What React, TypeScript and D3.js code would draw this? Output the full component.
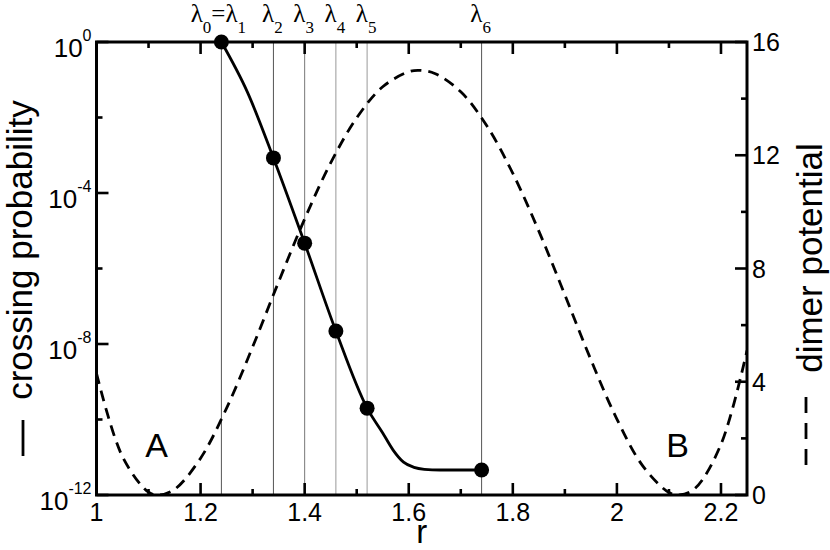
import React from 'react';
import * as d3 from 'd3';

// interface positions (lambda_i) and crossing probabilities at them
const lambdaR = [1.24, 1.34, 1.4, 1.46, 1.52, 1.74];
const lambdaNames = [['0', '1'], ['2'], ['3'], ['4'], ['5'], ['6']];
const crossingProb = [1, 8.5e-4, 4.7e-6, 2.2e-8, 2.0e-10, 4.6e-12];

// smooth crossing-probability curve
const curveR = [1.24, 1.29, 1.34, 1.4, 1.46, 1.52, 1.55, 1.57, 1.59, 1.61, 1.63, 1.66, 1.74];
const curveP = [1, 4.7e-2, 8.5e-4, 4.7e-6, 2.2e-8, 2.0e-10, 4.4e-11, 1.55e-11, 7.4e-12, 5.4e-12, 4.8e-12, 4.6e-12, 4.6e-12];

// dimer potential (dashed)
const potR = [1.0, 1.05, 1.1, 1.12, 1.15, 1.2, 1.25, 1.3, 1.35, 1.4, 1.45, 1.5, 1.55, 1.6, 1.62, 1.65, 1.7, 1.75, 1.8, 1.85, 1.9, 1.95, 2.0, 2.05, 2.1, 2.12, 2.15, 2.2, 2.25];
const potV = [4.3, 1.35, 0.1, 0, 0.2, 1.3, 3.07, 5.23, 7.53, 9.75, 11.73, 13.32, 14.42, 14.95, 15, 14.89, 14.24, 13.04, 11.36, 9.32, 7.07, 4.78, 2.68, 1.02, 0.09, 0, 0.23, 1.79, 5.1];

const xTicks = [1, 1.2, 1.4, 1.6, 1.8, 2, 2.2];
const xMinor = [1.1, 1.3, 1.5, 1.7, 1.9, 2.1];
const leftExp = [0, -4, -8, -12];
const leftMinorExp = [-2, -6, -10];
const rightTicks = [0, 4, 8, 12, 16];
const rightMinor = [2, 6, 10, 14];

const W = 830;
const H = 550;
const M = { left: 96.5, right: 83, top: 42, bottom: 55 };
const SANS = 'Liberation Sans, Arial, Helvetica, sans-serif';
const SERIF = 'Liberation Serif, Times New Roman, serif';

export default function App() {
  const x = d3.scaleLinear().domain([1, 2.25]).range([M.left, W - M.right]);
  const yL = d3.scaleLog().domain([1e-12, 1]).range([H - M.bottom, M.top]);
  const yR = d3.scaleLinear().domain([0, 16]).range([H - M.bottom, M.top]);
  const x0 = M.left, x1 = W - M.right, y0 = M.top, y1 = H - M.bottom;

  const probLine = d3
    .line<number>()
    .x((_, i) => x(curveR[i]))
    .y((d) => yL(d))
    .curve(d3.curveMonotoneX);
  const potLine = d3
    .line<number>()
    .x((_, i) => x(potR[i]))
    .y((d) => yR(d))
    .curve(d3.curveCatmullRom);

  const major = 12;
  const minor = 6;
  const lineGray = ['#555', '#555', '#777', '#999', '#999', '#555'];

  return (
    <svg width={W} height={H} style={{ position: 'absolute', left: 0, top: 0, background: '#fff' }}>
      <defs>
        <clipPath id="plot">
          <rect x={x0} y={y0} width={x1 - x0} height={y1 - y0} />
        </clipPath>
      </defs>

      {/* interface lines */}
      {lambdaR.map((r, i) => (
        <line key={r} x1={x(r)} x2={x(r)} y1={y0} y2={y1} stroke={lineGray[i]} strokeWidth={1} />
      ))}

      <g clipPath="url(#plot)">
        <path d={potLine(potV) ?? ''} fill="none" stroke="#000" strokeWidth={2.8} strokeDasharray="11,7" />
      </g>
      <path d={probLine(curveP) ?? ''} fill="none" stroke="#000" strokeWidth={2.8} />
      {lambdaR.map((r, i) => (
        <circle key={r} cx={x(r)} cy={yL(crossingProb[i])} r={7.5} fill="#000" />
      ))}

      {/* frame */}
      <rect x={x0} y={y0} width={x1 - x0} height={y1 - y0} fill="none" stroke="#000" strokeWidth={3} />

      {/* x ticks bottom and top */}
      {xTicks.map((t) => (
        <g key={t}>
          <line x1={x(t)} x2={x(t)} y1={y1} y2={y1 - major} stroke="#000" strokeWidth={2.6} />
          <line x1={x(t)} x2={x(t)} y1={y0} y2={y0 + major} stroke="#000" strokeWidth={2.6} />
          <text x={x(t)} y={y1 + 26} textAnchor="middle" fontFamily={SANS} fontSize={25}>
            {d3.format('')(t)}
          </text>
        </g>
      ))}
      {xMinor.map((t) => (
        <g key={t}>
          <line x1={x(t)} x2={x(t)} y1={y1} y2={y1 - minor} stroke="#000" strokeWidth={2.6} />
          <line x1={x(t)} x2={x(t)} y1={y0} y2={y0 + minor} stroke="#000" strokeWidth={2.6} />
        </g>
      ))}

      {/* left log axis */}
      {leftExp.map((e) => (
        <g key={e}>
          <line x1={x0} x2={x0 + major} y1={yL(10 ** e)} y2={yL(10 ** e)} stroke="#000" strokeWidth={2.6} />
          <text x={x0 - 5} y={yL(10 ** e) + 15} textAnchor="end" fontFamily={SANS} fontSize={26}>
            10
            <tspan dy={-16} fontSize={16}>{e === 0 ? '0' : `-${-e}`}</tspan>
          </text>
        </g>
      ))}
      {leftMinorExp.map((e) => (
        <line key={e} x1={x0} x2={x0 + minor} y1={yL(10 ** e)} y2={yL(10 ** e)} stroke="#000" strokeWidth={2.6} />
      ))}

      {/* right linear axis */}
      {rightTicks.map((t) => (
        <g key={t}>
          <line x1={x1} x2={x1 - major} y1={yR(t)} y2={yR(t)} stroke="#000" strokeWidth={2.6} />
          <text x={x1 + 5} y={yR(t) + 9} fontFamily={SANS} fontSize={25}>
            {t}
          </text>
        </g>
      ))}
      {rightMinor.map((t) => (
        <line key={t} x1={x1} x2={x1 - minor} y1={yR(t)} y2={yR(t)} stroke="#000" strokeWidth={2.6} />
      ))}

      {/* lambda labels */}
      {lambdaR.map((r, i) => {
        const subs = lambdaNames[i];
        return (
          <text key={r} x={x(r) - (subs.length > 1 ? 3 : 1)} y={22} textAnchor="middle" fontFamily={SERIF} fontSize={25}>
            λ<tspan dy={11} fontSize={17}>{subs[0]}</tspan>
            {subs.length > 1 && (
              <>
                <tspan dy={-11}>=λ</tspan>
                <tspan dy={11} fontSize={17}>{subs[1]}</tspan>
              </>
            )}
          </text>
        );
      })}

      {/* axis titles */}
      <text x={(x0 + x1) / 2} y={543} textAnchor="middle" fontFamily={SANS} fontSize={33}>
        r
      </text>
      <text transform={`translate(32,250) rotate(-90)`} textAnchor="middle" fontFamily={SANS} fontSize={35}>
        crossing probability
      </text>
      <line x1={23} x2={23} y1={420} y2={456} stroke="#000" strokeWidth={2.8} />

      <text transform={`translate(822,258) rotate(-90)`} textAnchor="middle" fontFamily={SANS} fontSize={35}>
        dimer potential
      </text>
      <line x1={806} x2={806} y1={397} y2={465} stroke="#000" strokeWidth={2.8} strokeDasharray="16,10" />

      {/* basin labels */}
      <text x={156.5} y={457} textAnchor="middle" fontFamily={SANS} fontSize={34}>
        A
      </text>
      <text x={677.5} y={457} textAnchor="middle" fontFamily={SANS} fontSize={34}>
        B
      </text>
    </svg>
  );
}
